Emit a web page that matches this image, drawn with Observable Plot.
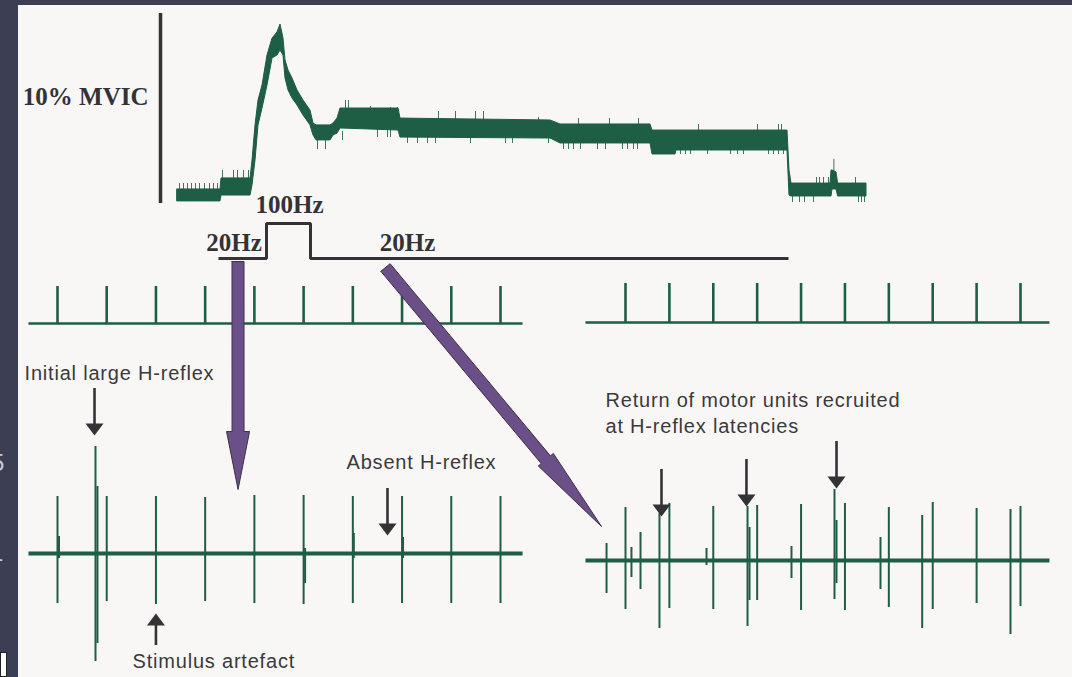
<!DOCTYPE html>
<html><head><meta charset="utf-8">
<script src="https://cdn.jsdelivr.net/npm/d3@7"></script>
<script src="https://cdn.jsdelivr.net/npm/@observablehq/plot@0.6"></script>
<style>
html,body{margin:0;padding:0;background:#3c3f53;}
#fig{position:relative;width:1072px;height:677px;overflow:hidden;background:#3c3f53;}
#paper{position:absolute;left:18px;top:5px;width:1054px;height:672px;background:#f8f7f5;}
#edgewrap{position:absolute;left:0;top:0;width:17px;height:677px;overflow:hidden;}
.edge{position:absolute;font-family:"Liberation Sans",sans-serif;font-size:24px;color:#c9cad4;}
#box{position:absolute;left:0;top:652px;width:7px;height:25px;background:#fff;border:1px solid #222;box-sizing:border-box;}
</style></head><body>
<div id="fig"><div id="paper"></div>
<div id="edgewrap"><span class="edge" style="left:-9px;top:449px">5</span><span class="edge" style="left:-10px;top:539px">1</span><div id="box"></div></div>
</div>
<script>
// ---------------- DATA ----------------
// Force trace (top): time in s from stimulation onset, force envelope in %MVIC
const forceT  = [-2.05,0.1,0.15,1.6,1.7,1.85,2.0,2.2,2.45,2.7,2.95,3.1,3.25,3.35,3.5,3.7,3.95,4.25,4.6,4.75,4.9,5.6,5.75,5.95,6.1,9.0,9.1,16.6,17.1,21.6,21.7,22.85,22.9,28.45,28.55,28.65,30.6,30.65,30.7,30.9,30.98,32.4];
const forceHi = [0.74,0.74,1.32,1.32,2.26,4.11,5.42,6.21,7.79,8.68,9.0,9.42,8.68,7.53,7.0,6.58,5.95,5.42,4.89,4.21,4.11,4.11,4.21,4.47,5.0,5.0,4.47,4.37,4.16,4.16,3.84,3.84,3.84,3.84,1.74,1.05,1.05,1.74,1.74,1.63,1.05,1.05];
const forceLo = [0.11,0.11,0.42,0.42,0.95,2.26,4.11,5.0,6.21,7.63,7.79,8.05,7.79,6.58,5.95,5.53,5.16,4.63,4.11,3.58,3.32,3.32,3.58,3.68,3.95,3.84,3.47,3.42,3.16,3.16,2.58,2.58,2.79,2.79,0.42,0.37,0.37,0.37,0.74,0.74,0.37,0.37];
// noise excursions of the force trace: times (s), tip and base (%MVIC)
const forceSpikeGroups = [
  {t:[-1.95,-1.75,-1.55,-1.35,-1.15,-0.95,-0.7,-0.45,-0.25,-0.05], tip:1.05, base:0.68},
  {t:[0.2,0.75,0.95,1.25,1.5], tip:1.74, base:1.26},
  {t:[6.35,6.5], tip:5.42, base:4.89},
  {t:[7.6], tip:5.11, base:4.89},
  {t:[8.6,8.95], tip:5.05, base:4.79},
  {t:[11.0,11.85,12.85,13.25], tip:4.84, base:4.37},
  {t:[16.0], tip:4.53, base:4.32},
  {t:[18.0,19.55,21.0], tip:4.47, base:4.11},
  {t:[24.0,26.95,28.0,28.15], tip:4.16, base:3.79},
  {t:[29.9,30.05,30.25,30.5,31.85], tip:1.37, base:1.0},
  {t:[30.77], tip:2.32, base:1.6},
  {t:[4.95,5.35], tip:2.84, base:3.42},
  {t:[6.2], tip:3.32, base:3.79},
  {t:[7.95,8.45,8.6], tip:3.47, base:4.0},
  {t:[9.45,9.95,10.45,10.85], tip:3.16, base:3.58},
  {t:[12.6,14.35,14.7,16.5], tip:3.16, base:3.53},
  {t:[17.25,17.5,17.75,18.1,18.95,19.35,20.2,20.45,20.75,20.95], tip:2.84, base:3.26},
  {t:[21.85,22.1,22.35,22.7,23.1,23.35,23.6,24.45,25.6,25.95,26.25,27.5,27.75,28.0,28.25], tip:2.58, base:2.89},
  {t:[28.7,29.05,29.3,29.75,32.0,32.15,32.3], tip:0.05, base:0.42}
];
const scaleBarT = -2.9;           // position of the 10% MVIC calibration bar
const scaleBarRange = [0, 10];    // %MVIC
const scaleBarLabel = "10% MVIC";

// Stimulation protocol: time (s) and frequency (Hz)
const protoT  = [0, 2.4, 4.6, 28.5];
const protoHz = [20, 100, 20, 20];
const protoLabelText = ["20Hz", "100Hz", "20Hz"];
const protoLabelT    = [0.775, 3.55, 9.45];
const protoLabelHz   = [20, 100, 20];

// Stimulus trains (ms)
const trainTimes = [0,50,100,150,200,250,300,350,400,450];
const leftSpan  = [-29.5, 472.4];
const rightSpan = [-45.6, 483.0];

// Left EMG (ms, mV)
const leftStimUp   = [0.57,0.57,0.57,0.56,0.58,0.58,0.57,0.57,0.57,0.57];
const leftStimDown = [-0.50,-0.48,-0.51,-0.48,-0.50,-0.51,-0.50,-0.50,-0.50,-0.50];
const leftOtherT    = [38.6, 40.6, 1.5, 251.5, 301.0, 351.0];
const leftOtherUp   = [1.07, 0.67, 0.17, 0.05, 0.20, 0.16];
const leftOtherDown = [-1.08, -0.90, -0.05, -0.30, -0.05, -0.05];

// Right EMG (ms, mV)
const rightStimUp   = [0.53,0.57,0.54,0.55,0.56,0.57,0.53,0.58,0.52,0.54];
const rightStimDown = [-0.49,-0.48,-0.49,-0.40,-0.50,-0.50,-0.47,-0.49,-0.43,-0.46];
const rightOtherT    = [-21.6, 6.8, 17.1, 38.7, 92.3, 139.0, 141.3, 189.1, 238.1, 240.4, 290.5, 338.0, 438.6];
const rightOtherUp   = [0.17, 0.13, 0.28, 0.47, 0.12, 0.54, 0.33, 0.14, 0.71, 0.40, 0.23, 0.45, 0.51];
const rightOtherDown = [-0.33,-0.17,-0.29,-0.68,-0.05,-0.66,-0.40,-0.18,-0.39,-0.23,-0.29,-0.68,-0.74];

// Annotations
const leftNoteText = ["Initial large H-reflex", "Stimulus artefact", "Absent H-reflex"];
const leftNoteT    = [-33.5, 76.2, 293.6];
const leftNoteMv   = [1.80, -1.08, 0.91];
const leftArrowT    = [37.6, 100, 335.2];
const leftArrowFrom = [1.65, -0.92, 0.65];
const leftArrowTo   = [1.18, -0.60, 0.18];
const rightNoteText = ["Return of motor units recruited", "at H-reflex latencies"];
const rightNoteT    = [-22.8, -22.8];
const rightNoteMv   = [1.595, 1.335];
const rightArrowT    = [41.0, 137.8, 240.4];
const rightArrowFrom = [0.91, 1.01, 1.19];
const rightArrowTo   = [0.44, 0.54, 0.72];

// Purple links from the protocol to the EMG panels
const purpleFromT  = [0.975, 8.35];   // s
const purpleFromHz = [13.1, -0.6];
const purpleToPanel = ["left", "right"];
const purpleToT  = [183.4, -27.3];    // ms
const purpleToMv = [0.64, 0.34];

// ---------------- STYLE ----------------
const GREEN = "#1e5e45", DARK = "#333336", TEXT = "#3a3a3c", PURPLE = "#6a4f88";
const W = 1072, H = 677;
const fig = document.getElementById("fig");
function layer(xs, ys, marks, extra = {}) {
  const p = Plot.plot({
    width: W, height: H, margin: 0,
    x: {...xs, axis: null}, y: {...ys, axis: null},
    style: {background: "transparent", position: "absolute", left: "0px", top: "0px", overflow: "visible", maxWidth: "none", ...extra},
    marks
  });
  fig.appendChild(p);
  return p;
}
const lin = s => d3.scaleLinear().domain(s.domain).range(s.range);

const arrowDown = {draw(c) { c.moveTo(0, 0); c.lineTo(-9, -12); c.lineTo(9, -12); c.closePath(); }};
const arrowUp   = {draw(c) { c.moveTo(0, 0); c.lineTo(-9, 12); c.lineTo(9, 12); c.closePath(); }};

// ---------------- FORCE ----------------
const force = forceT.map((t, i) => ({t, hi: forceHi[i], lo: forceLo[i]}));
const forceSpikes = forceSpikeGroups.flatMap(g => g.t.map(t => ({t, tip: g.tip, base: g.base})));
const timeX = {domain: [0, 28.5], range: [218, 788]};
layer(timeX, {domain: [0, 10], range: [203, 13]}, [
  Plot.areaY(force, {x: "t", y1: "lo", y2: "hi", fill: GREEN, stroke: GREEN, strokeWidth: 1}),
  Plot.ruleX(forceSpikes, {x: "t", y1: "base", y2: "tip", stroke: GREEN, strokeWidth: 1, strokeOpacity: 0.85}),
  Plot.ruleX([scaleBarT], {y1: scaleBarRange[0], y2: scaleBarRange[1], stroke: DARK, strokeWidth: 3.5}),
  Plot.text([scaleBarLabel], {x: scaleBarT, y: 5.63, text: d => d, textAnchor: "end", dx: -12, lineAnchor: "middle",
    fontFamily: "Liberation Serif", fontWeight: "bold", fontSize: 25, fill: DARK})
]);

// ---------------- PROTOCOL ----------------
const proto = protoT.map((t, i) => ({t, hz: protoHz[i]}));
const protoLabels = protoLabelText.map((s, i) => ({s, t: protoLabelT[i], hz: protoLabelHz[i]}));
const protoPlot = layer(timeX, {domain: [20, 100], range: [258, 223]}, [
  Plot.line(proto, {x: "t", y: "hz", curve: "step-after", stroke: DARK, strokeWidth: 3, strokeLinejoin: "miter", strokeLinecap: "butt"}),
  Plot.text(protoLabels.filter(d => d.hz === 20), {x: "t", y: "hz", text: "s", dy: -16, lineAnchor: "middle",
    fontFamily: "Liberation Serif", fontWeight: "bold", fontSize: 25, fill: DARK}),
  Plot.text(protoLabels.filter(d => d.hz === 100), {x: "t", y: "hz", text: "s", dy: -19, lineAnchor: "middle",
    fontFamily: "Liberation Serif", fontWeight: "bold", fontSize: 25, fill: DARK})
]);

// ---------------- TRAINS ----------------
const leftX  = {domain: [0, 450], range: [57, 500]};
const rightX = {domain: [0, 450], range: [625, 1020]};
function trainMarks(span) {
  return [
    Plot.line(span.map(t => ({t, v: 0})), {x: "t", y: "v", stroke: GREEN, strokeWidth: 2.5, strokeLinecap: "butt"}),
    Plot.ruleX(trainTimes, {x: d => d, y1: 0, y2: 1, stroke: GREEN, strokeWidth: 2.6})
  ];
}
layer(leftX,  {domain: [0, 1], range: [323, 286]}, trainMarks(leftSpan));
layer(rightX, {domain: [0, 1], range: [322, 283]}, trainMarks(rightSpan));

// ---------------- EMG ----------------
function emgMarks(span, stimUp, stimDown, oT, oUp, oDown, notes, arrows) {
  const stim = trainTimes.map((t, i) => ({t, up: stimUp[i], down: stimDown[i]}));
  const other = oT.map((t, i) => ({t, up: oUp[i], down: oDown[i]}));
  return [
    Plot.line(span.map(t => ({t, v: 0})), {x: "t", y: "v", stroke: GREEN, strokeWidth: 4, strokeLinecap: "butt"}),
    Plot.ruleX(stim, {x: "t", y1: "down", y2: "up", stroke: GREEN, strokeWidth: 2}),
    Plot.ruleX(other, {x: "t", y1: "down", y2: "up", stroke: GREEN, strokeWidth: 2}),
    Plot.text(notes, {x: "t", y: "v", text: "s", textAnchor: "start", lineAnchor: "middle",
      fontFamily: "Liberation Sans", fontSize: 20, fill: TEXT}),
    Plot.ruleX(arrows, {x: "t", y1: "from", y2: d => d.to + (d.from > d.to ? 0.08 : -0.08), stroke: DARK, strokeWidth: 2.6}),
    Plot.dot(arrows, {x: "t", y: "to", symbol: d => d.from > d.to ? arrowDown : arrowUp, fill: DARK, stroke: "none", r: 5})
  ];
}
const leftNotes = leftNoteText.map((s, i) => ({s, t: leftNoteT[i], v: leftNoteMv[i]}));
const leftArrows = leftArrowT.map((t, i) => ({t, from: leftArrowFrom[i], to: leftArrowTo[i]}));
const rightNotes = rightNoteText.map((s, i) => ({s, t: rightNoteT[i], v: rightNoteMv[i]}));
const rightArrows = rightArrowT.map((t, i) => ({t, from: rightArrowFrom[i], to: rightArrowTo[i]}));

const leftEmg = layer(leftX, {domain: [-1, 1], range: [653, 453]},
  emgMarks(leftSpan, leftStimUp, leftStimDown, leftOtherT, leftOtherUp, leftOtherDown, leftNotes, leftArrows),
  {letterSpacing: "0.8px"});
const rightEmg = layer(rightX, {domain: [-1, 1], range: [660, 460]},
  emgMarks(rightSpan, rightStimUp, rightStimDown, rightOtherT, rightOtherUp, rightOtherDown, rightNotes, rightArrows),
  {letterSpacing: "0.8px"});

// ---------------- PURPLE ARROWS ----------------
const px = lin(protoPlot.scale("x")), py = lin(protoPlot.scale("y"));
const panels = {
  left:  {x: lin(leftEmg.scale("x")),  y: lin(leftEmg.scale("y"))},
  right: {x: lin(rightEmg.scale("x")), y: lin(rightEmg.scale("y"))}
};
const headStyle = [{len: 58, half: 11.5}, {len: 87, half: 9.8}];
const shaftHalf = 6;
const polys = purpleFromT.flatMap((t, i) => {
  const p0 = [px(t), py(purpleFromHz[i])];
  const P = panels[purpleToPanel[i]];
  const p1 = [P.x(purpleToT[i]), P.y(purpleToMv[i])];
  const dx = p1[0] - p0[0], dy = p1[1] - p0[1], L = Math.hypot(dx, dy);
  const u = [dx / L, dy / L], n = [-u[1], u[0]];
  const {len, half} = headStyle[i];
  const b = [p1[0] - u[0] * len, p1[1] - u[1] * len];
  const pts = [
    [p0[0] + n[0] * shaftHalf, p0[1] + n[1] * shaftHalf],
    [b[0] + n[0] * shaftHalf, b[1] + n[1] * shaftHalf],
    [b[0] + n[0] * half, b[1] + n[1] * half],
    p1,
    [b[0] - n[0] * half, b[1] - n[1] * half],
    [b[0] - n[0] * shaftHalf, b[1] - n[1] * shaftHalf],
    [p0[0] - n[0] * shaftHalf, p0[1] - n[1] * shaftHalf]
  ];
  pts.push(pts[0]);
  return pts.map(([x, y]) => ({x, y, id: i}));
});
layer({type: "identity"}, {type: "identity"}, [
  Plot.line(polys, {x: "x", y: "y", z: "id", fill: PURPLE, stroke: "#3d3346", strokeWidth: 1, strokeLinejoin: "miter", curve: "linear"})
]);
</script>
</body></html>
